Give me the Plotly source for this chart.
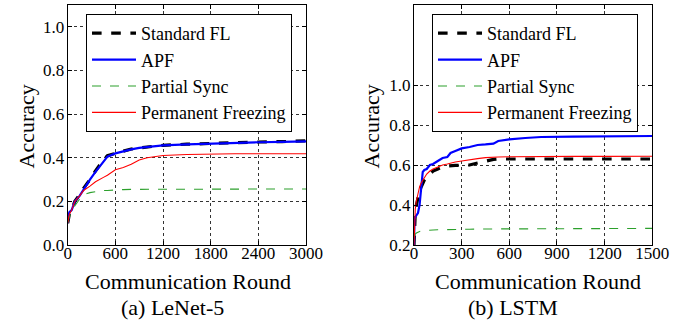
import plotly.graph_objects as go

# ---------------- data ----------------
lenet_rounds = [0, 20, 50, 90, 150, 200, 280, 350, 450, 500, 600, 700, 800, 900,
                1000, 1100, 1200, 1500, 1800, 2100, 2400, 2700, 3000]
lenet_standard = [0.10, 0.14, 0.16, 0.20, 0.23, 0.26, 0.30, 0.34, 0.39, 0.41, 0.42, 0.43,
                  0.44, 0.445, 0.45, 0.455, 0.457, 0.462, 0.466, 0.470, 0.472, 0.474, 0.477]
lenet_apf = [0.10, 0.15, 0.16, 0.20, 0.225, 0.255, 0.30, 0.335, 0.385, 0.405, 0.42, 0.43,
             0.438, 0.445, 0.45, 0.455, 0.457, 0.461, 0.465, 0.468, 0.471, 0.473, 0.475]
lenet_partial = [0.10, 0.13, 0.15, 0.18, 0.21, 0.23, 0.24, 0.245, 0.25, 0.25, 0.253, 0.254,
                 0.255, 0.255, 0.256, 0.256, 0.256, 0.256, 0.257, 0.257, 0.257, 0.257, 0.257]
lenet_perm = [0.10, 0.14, 0.16, 0.20, 0.225, 0.25, 0.27, 0.29, 0.31, 0.32, 0.345, 0.355,
              0.37, 0.39, 0.40, 0.405, 0.41, 0.415, 0.418, 0.418, 0.418, 0.418, 0.418]

lstm_rounds = [0, 3, 8, 15, 25, 35, 45, 55, 65, 80, 100, 120, 150, 180, 210, 230, 260,
               300, 350, 400, 450, 500, 530, 600, 700, 800, 1000, 1200, 1500]
lstm_standard = [0.20, 0.30, 0.36, 0.40, 0.44, 0.47, 0.49, 0.51, 0.525, 0.54, 0.555, 0.57,
                 0.58, 0.59, 0.595, 0.597, 0.598, 0.598, 0.60, 0.61, 0.62, 0.628, 0.63,
                 0.63, 0.63, 0.63, 0.63, 0.63, 0.63]
lstm_apf = [0.20, 0.33, 0.34, 0.35, 0.36, 0.40, 0.50, 0.565, 0.575, 0.58, 0.60, 0.605,
            0.62, 0.635, 0.64, 0.66, 0.67, 0.683, 0.69, 0.70, 0.703, 0.707, 0.72, 0.728,
            0.735, 0.74, 0.742, 0.744, 0.745]
lstm_partial = [0.24, 0.25, 0.255, 0.26, 0.265, 0.268, 0.27, 0.271, 0.272, 0.273, 0.274,
                0.275, 0.276, 0.277, 0.277, 0.278, 0.278, 0.279, 0.279, 0.28, 0.28, 0.28,
                0.28, 0.281, 0.281, 0.282, 0.282, 0.283, 0.283]
lstm_perm = [0.20, 0.33, 0.38, 0.42, 0.46, 0.49, 0.51, 0.525, 0.54, 0.555, 0.57, 0.58,
             0.59, 0.60, 0.605, 0.61, 0.615, 0.62, 0.627, 0.632, 0.637, 0.64, 0.64, 0.641,
             0.642, 0.642, 0.643, 0.643, 0.644]

series_names = ["Standard FL", "APF", "Partial Sync", "Permanent Freezing"]
lenet_xticks = [0, 600, 1200, 1800, 2400, 3000]
lenet_yticks = [0.0, 0.2, 0.4, 0.6, 0.8, 1.0]
lstm_xticks = [0, 300, 600, 900, 1200, 1500]
lstm_yticks = [0.2, 0.4, 0.6, 0.8, 1.0]
captions = ["(a) LeNet-5", "(b) LSTM"]

# ---------------- styles ----------------
FONT = "Liberation Serif, Times New Roman, Times, serif"
styles = [
    dict(color="black", width=3.2, dash="dash"),
    dict(color="#0000ff", width=2.2, dash="solid"),
    dict(color="#2ca02c", width=1.1, dash="dash"),
    dict(color="#ff0000", width=1.1, dash="solid"),
]

fig = go.Figure()

left = [lenet_standard, lenet_apf, lenet_partial, lenet_perm]
right = [lstm_standard, lstm_apf, lstm_partial, lstm_perm]

for name, ys, st in zip(series_names, left, styles):
    fig.add_trace(go.Scatter(x=lenet_rounds, y=ys, mode="lines", name=name,
                             line=st, xaxis="x", yaxis="y", legend="legend"))
for name, ys, st in zip(series_names, right, styles):
    fig.add_trace(go.Scatter(x=lstm_rounds, y=ys, mode="lines", name=name,
                             line=st, xaxis="x2", yaxis="y2", legend="legend2"))

W, H = 695, 324


def px(xp):
    return xp / W


def py(yp):
    return (H - yp) / H


axis_common = dict(
    showline=True, linecolor="black", linewidth=1, mirror="ticks",
    ticks="inside", ticklen=4, tickcolor="black", automargin=False,
    showgrid=True, gridcolor="#333333", griddash="dot", gridwidth=1,
    zeroline=False, tickfont=dict(family=FONT, size=17, color="black"),
)
x_common = dict(axis_common, ticklabelstandoff=-7)
y_common = dict(axis_common, ticklabelstandoff=-1)

y_dom = [py(245), py(5)]

legend_common = dict(xanchor="left", yanchor="top", bordercolor="black", borderwidth=1,
                     bgcolor="white", font=dict(family=FONT, size=18, color="black"),
                     itemwidth=44)

fig.update_layout(
    template="none",
    width=W, height=H, autosize=False,
    margin=dict(l=0, r=0, t=0, b=0, pad=0, autoexpand=False),
    paper_bgcolor="white", plot_bgcolor="white",
    font=dict(family=FONT, color="black"),
    xaxis=dict(domain=[px(67.7), px(306)], range=[0, 3000], tickvals=lenet_xticks,
               anchor="y", **x_common),
    yaxis=dict(domain=y_dom, range=[0, 1.1], tickvals=lenet_yticks, tickformat=".1f",
               anchor="x", **y_common),
    xaxis2=dict(domain=[px(414), px(652.3)], range=[0, 1500], tickvals=lstm_xticks,
                anchor="y2", **x_common),
    yaxis2=dict(domain=y_dom, range=[0.2, 1.4], tickvals=lstm_yticks, tickformat=".1f",
                anchor="x2", **y_common),
    legend=dict(x=px(86), y=py(14), **legend_common),
    legend2=dict(x=px(432), y=py(14), **legend_common),
)

annotations = [
    dict(text="Accuracy", x=px(26), y=py(126.5), textangle=-90),
    dict(text="Accuracy", x=px(371), y=py(126.5), textangle=-90),
    dict(text="Communication Round", x=px(188), y=py(281)),
    dict(text="Communication Round", x=px(538), y=py(281)),
]
for a in annotations:
    fig.add_annotation(xref="paper", yref="paper", showarrow=False,
                       xanchor="center", yanchor="middle",
                       font=dict(family=FONT, size=22, color="black"), **a)
for text, xc in zip(captions, [172, 513]):
    fig.add_annotation(xref="paper", yref="paper", showarrow=False, text=text,
                       x=px(xc), y=py(307), xanchor="center", yanchor="middle",
                       font=dict(family=FONT, size=22, color="black"))

fig.write_html("out.html")
